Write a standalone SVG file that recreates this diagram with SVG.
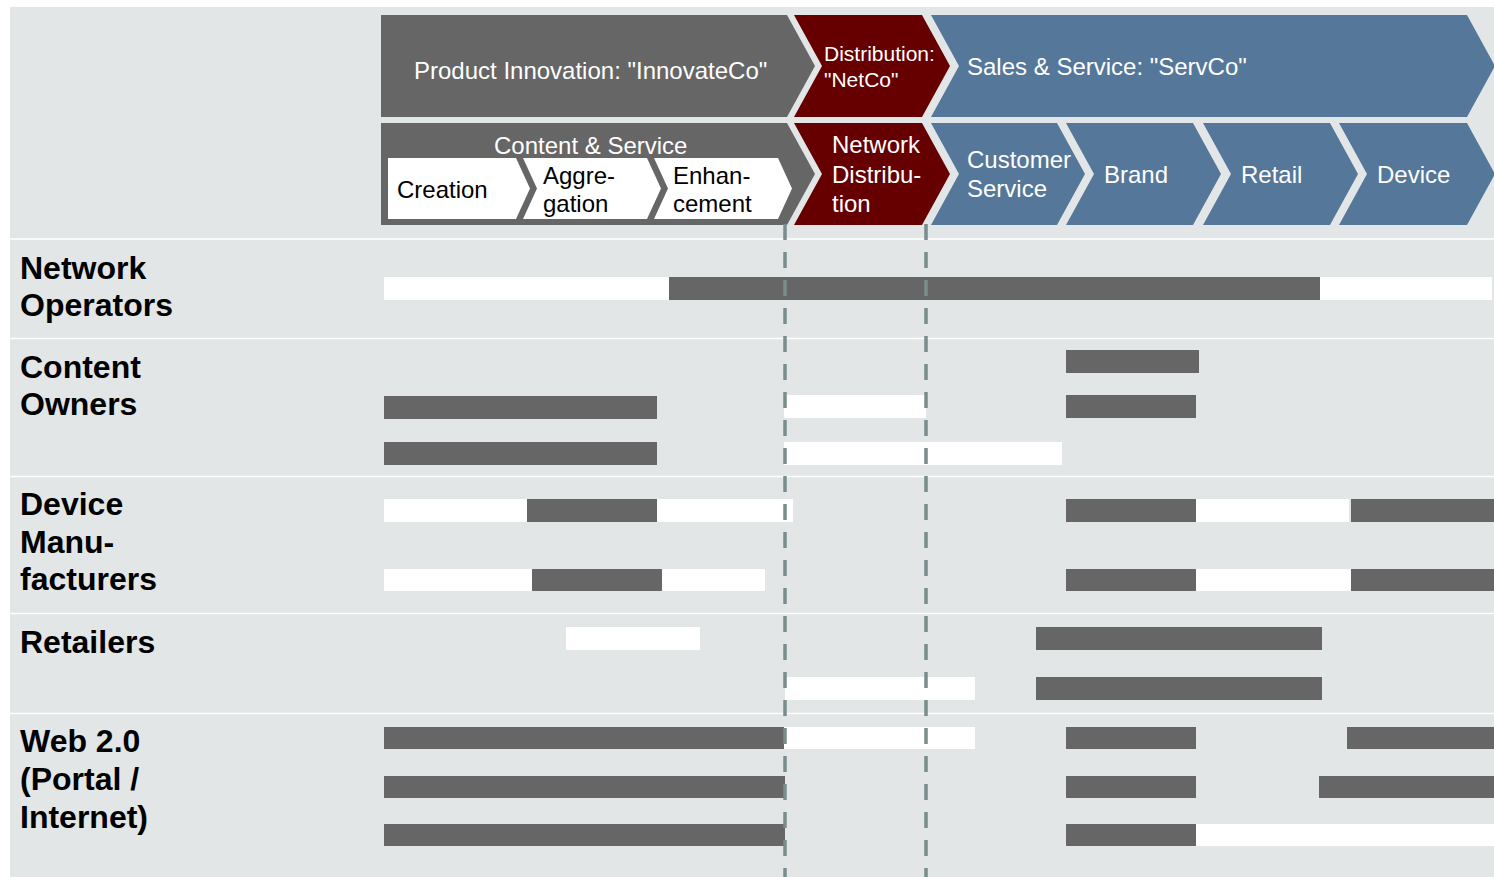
<svg xmlns="http://www.w3.org/2000/svg" width="1494" height="877" viewBox="0 0 1494 877">
<style>
text{font-family:"Liberation Sans",Arial,Helvetica,sans-serif;}
.hw{fill:#ffffff;font-size:24px;}
.hb{fill:#000000;font-size:24px;}
.lbl{fill:#000000;font-size:32px;font-weight:bold;}
.g{fill:#666666;}
.r{fill:#660000;}
.b{fill:#557799;}
.w{fill:#ffffff;}
.sep{stroke:#ffffff;stroke-width:1.6;}
.dash{stroke:#7A8C8C;stroke-width:3.5;stroke-dasharray:16 12;fill:none;}
</style>
<rect x="0" y="0" width="1494" height="877" fill="#ffffff"/>
<rect x="10" y="7" width="1484" height="870" fill="#E2E6E7"/>

<g id="separators">
<line class="sep" x1="10" y1="239" x2="1494" y2="239"/>
<line class="sep" x1="10" y1="338.5" x2="1494" y2="338.5"/>
<line class="sep" x1="10" y1="476.5" x2="1494" y2="476.5"/>
<line class="sep" x1="10" y1="613.5" x2="1494" y2="613.5"/>
<line class="sep" x1="10" y1="713.5" x2="1494" y2="713.5"/>
</g>

<g id="hdr-innovateco">
<polygon class="g" points="381,15 787,15 815,66 787,117 381,117"/>
<text class="hw" x="414" y="79">Product Innovation: "InnovateCo"</text>
</g>
<g id="hdr-netco">
<polygon class="r" points="794,15 922,15 950,66 922,117 794,117 822,66"/>
<text class="hw" x="824" y="61" style="font-size:21px">Distribution:</text>
<text class="hw" x="824" y="87" style="font-size:21px">"NetCo"</text>
</g>
<g id="hdr-servco">
<polygon class="b" points="931,15 1467,15 1495,66 1467,117 931,117 959,66"/>
<text class="hw" x="967" y="75">Sales &amp; Service: "ServCo"</text>
</g>

<g id="hdr-content-service">
<polygon class="g" points="381,123 787,123 815,174 787,225 381,225"/>
<text class="hw" x="494" y="154">Content &amp; Service</text>
</g>
<g id="sub-creation">
<polygon class="w" points="388,158 516,158 530,188.5 516,219 388,219"/>
<text class="hb" x="397" y="198">Creation</text>
</g>
<g id="sub-aggregation">
<polygon class="w" points="523,158 647,158 661,188.5 647,219 523,219 537,188.5"/>
<text class="hb" x="543" y="184">Aggre-</text>
<text class="hb" x="543" y="212">gation</text>
</g>
<g id="sub-enhancement">
<polygon class="w" points="654,158 778,158 792,188.5 778,219 654,219 668,188.5"/>
<text class="hb" x="673" y="184">Enhan-</text>
<text class="hb" x="673" y="212">cement</text>
</g>
<g id="hdr-network-distribution">
<polygon class="r" points="794,123 922,123 950,174 922,225 794,225 822,174"/>
<text class="hw" x="832" y="153">Network</text>
<text class="hw" x="832" y="183">Distribu-</text>
<text class="hw" x="832" y="212">tion</text>
</g>
<g id="hdr-customer-service">
<polygon class="b" points="931,123 1057,123 1085,174 1057,225 931,225 959,174"/>
<text class="hw" x="967" y="168">Customer</text>
<text class="hw" x="967" y="197">Service</text>
</g>
<g id="hdr-brand">
<polygon class="b" points="1066,123 1193,123 1221,174 1193,225 1066,225 1094,174"/>
<text class="hw" x="1104" y="183">Brand</text>
</g>
<g id="hdr-retail">
<polygon class="b" points="1203,123 1330,123 1358,174 1330,225 1203,225 1231,174"/>
<text class="hw" x="1241" y="183">Retail</text>
</g>
<g id="hdr-device">
<polygon class="b" points="1339,123 1467,123 1495,174 1467,225 1339,225 1367,174"/>
<text class="hw" x="1377" y="183">Device</text>
</g>

<g id="row-network-operators">
<text class="lbl" x="20" y="279">Network</text>
<text class="lbl" x="20" y="316">Operators</text>
<rect class="w" x="384" y="277" width="285" height="23"/>
<rect class="g" x="669" y="277" width="651" height="23"/>
<rect class="w" x="1320" y="277" width="172" height="23"/>
</g>

<g id="row-content-owners">
<text class="lbl" x="20" y="378">Content</text>
<text class="lbl" x="20" y="415">Owners</text>
<rect class="g" x="1066" y="350" width="133" height="23"/>
<rect class="g" x="384" y="396" width="273" height="23"/>
<rect class="w" x="784" y="395" width="142" height="23"/>
<rect class="g" x="1066" y="395" width="130" height="23"/>
<rect class="g" x="384" y="442" width="273" height="23"/>
<rect class="w" x="784" y="442" width="278" height="23"/>
</g>

<g id="row-device-manufacturers">
<text class="lbl" x="20" y="515">Device</text>
<text class="lbl" x="20" y="553">Manu-</text>
<text class="lbl" x="20" y="590">facturers</text>
<rect class="w" x="384" y="499" width="143" height="23"/>
<rect class="g" x="527" y="499" width="130" height="23"/>
<rect class="w" x="657" y="499" width="136" height="23"/>
<rect class="g" x="1066" y="499" width="130" height="23"/>
<rect class="w" x="1196" y="499" width="153" height="23"/>
<rect class="g" x="1351" y="499" width="143" height="23"/>
<rect class="w" x="384" y="569" width="148" height="22"/>
<rect class="g" x="532" y="569" width="130" height="22"/>
<rect class="w" x="662" y="569" width="103" height="22"/>
<rect class="g" x="1066" y="569" width="130" height="22"/>
<rect class="w" x="1196" y="569" width="155" height="22"/>
<rect class="g" x="1351" y="569" width="143" height="22"/>
</g>

<g id="row-retailers">
<text class="lbl" x="20" y="653">Retailers</text>
<rect class="w" x="566" y="627" width="134" height="23"/>
<rect class="g" x="1036" y="627" width="286" height="23"/>
<rect class="w" x="785" y="677" width="190" height="23"/>
<rect class="g" x="1036" y="677" width="286" height="23"/>
</g>

<g id="row-web20">
<text class="lbl" x="20" y="752">Web 2.0</text>
<text class="lbl" x="20" y="790">(Portal /</text>
<text class="lbl" x="20" y="828">Internet)</text>
<rect class="g" x="384" y="727" width="400" height="22"/>
<rect class="w" x="784" y="727" width="191" height="22"/>
<rect class="g" x="1066" y="727" width="130" height="22"/>
<rect class="g" x="1347" y="727" width="147" height="22"/>
<rect class="g" x="384" y="776" width="401" height="22"/>
<rect class="g" x="1066" y="776" width="130" height="22"/>
<rect class="g" x="1319" y="776" width="175" height="22"/>
<rect class="g" x="384" y="824" width="401" height="22"/>
<rect class="g" x="1066" y="824" width="130" height="22"/>
<rect class="w" x="1196" y="824" width="298" height="22"/>
</g>

<g id="guides">
<line class="dash" x1="785" y1="224" x2="785" y2="877"/>
<line class="dash" x1="926" y1="224" x2="926" y2="877"/>
</g>
</svg>
